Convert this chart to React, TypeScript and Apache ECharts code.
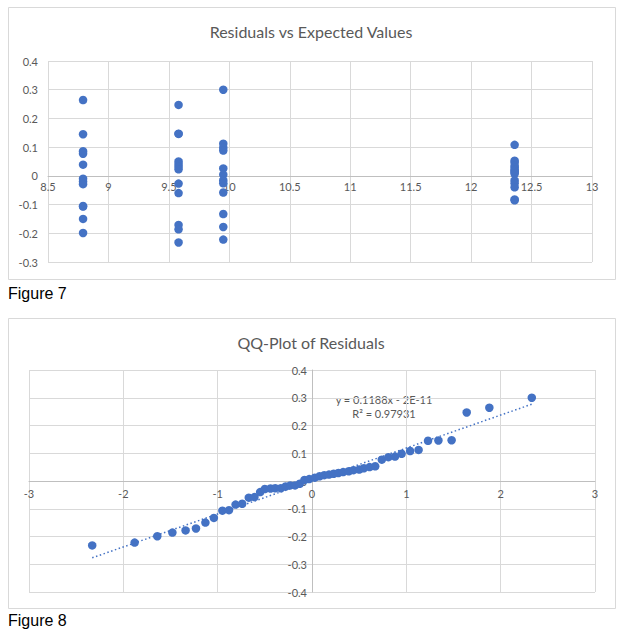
import React, { useEffect, useRef } from "react";
import * as echarts from "echarts";

// Figure 7: residuals for each expected value (group)
const expectedValues = [8.79, 9.58, 9.95, 12.36];
const residualsA = [0.264, 0.145, 0.086, 0.077, 0.039, -0.010, -0.020, -0.029, -0.105, -0.107, -0.150, -0.199];
const residualsB = [0.247, 0.147, 0.146, 0.050, 0.041, 0.032, 0.023, -0.027, -0.060, -0.171, -0.186, -0.232];
const residualsC = [0.300, 0.112, 0.098, 0.088, 0.026, 0.004, -0.016, -0.026, -0.058, -0.133, -0.178, -0.222];
const residualsD = [0.108, 0.053, 0.046, 0.035, 0.029, 0.021, 0.017, 0.012, 0.007, -0.016, -0.026, -0.040, -0.082, -0.085];
const residualGroups = [residualsA, residualsB, residualsC, residualsD];

// Figure 8: theoretical normal quantiles
const qqTheoretical = [
  -2.33, -1.88, -1.64, -1.48, -1.34, -1.23, -1.13, -1.04, -0.95, -0.88,
  -0.81, -0.74, -0.67, -0.61, -0.55, -0.50, -0.44, -0.39, -0.33, -0.28,
  -0.23, -0.18, -0.13, -0.08, -0.03, 0.03, 0.08, 0.13, 0.18, 0.23,
  0.28, 0.33, 0.39, 0.44, 0.50, 0.55, 0.61, 0.67, 0.74, 0.81,
  0.88, 0.95, 1.04, 1.13, 1.23, 1.34, 1.48, 1.64, 1.88, 2.33,
];
const trendSlope = 0.1188;
const trendIntercept = -2e-11;
const trendRange = [-2.33, 2.33];
const trendEquation = "y = 0.1188x - 2E-11";
const trendR2 = "R² = 0.97931";

const title1 = "Residuals vs Expected Values";
const title2 = "QQ-Plot of Residuals";
const caption1 = "Figure 7";
const caption2 = "Figure 8";

const BLUE = "#4472C4";
const GRID = "#d9d9d9";
const AXIS = "#bfbfbf";
const TXT = "#595959";
const FONT = "Lato, 'Open Sans', sans-serif";

// plot-area geometry (pixels)
const G1 = { left: 48, top: 61, width: 544, height: 201 };
const G2 = { left: 29, top: 370, width: 566, height: 222 };
const Y1 = [-0.3, 0.4];
const X2 = [-3, 3];
const Y2 = [-0.4, 0.4];

export default function App() {
  const ref = useRef<HTMLDivElement>(null);
  useEffect(() => {
    if (!ref.current) return;
    const chart = echarts.init(ref.current, null, { renderer: "svg" });

    const topData: number[][] = [];
    residualGroups.forEach((g, i) => g.forEach((r) => topData.push([expectedValues[i], r])));
    const sorted = ([] as number[]).concat(...residualGroups).sort((a, b) => a - b);
    const qqData = qqTheoretical.map((z, i) => [z, sorted[i]]);
    const trendData = trendRange.map((x) => [x, trendSlope * x + trendIntercept]);

    // offsets that place the axes on the zero lines
    const off1x = -G1.height * (0 - Y1[0]) / (Y1[1] - Y1[0]);
    const off2x = -G2.height * (0 - Y2[0]) / (Y2[1] - Y2[0]);
    const off2y = -G2.width * (0 - X2[0]) / (X2[1] - X2[0]);

    const axisLabel = { color: TXT, fontSize: 11, fontFamily: FONT };

    chart.setOption({
      animation: false,
      textStyle: { fontFamily: FONT },
      grid: [G1, G2],
      xAxis: [
        {
          gridIndex: 0, type: "value", min: 8.5, max: 13, interval: 0.5,
          position: "bottom", offset: off1x,
          axisLine: { show: true, onZero: false, lineStyle: { color: AXIS } },
          axisTick: { show: false },
          axisLabel: { ...axisLabel, margin: 5 },
          splitLine: { show: true, lineStyle: { color: GRID } },
        },
        {
          gridIndex: 1, type: "value", min: X2[0], max: X2[1], interval: 1,
          position: "bottom", offset: off2x,
          axisLine: { show: true, onZero: false, lineStyle: { color: AXIS } },
          axisTick: { show: false },
          axisLabel: { ...axisLabel, margin: 7 },
          splitLine: { show: true, lineStyle: { color: GRID } },
        },
      ],
      yAxis: [
        {
          gridIndex: 0, type: "value", min: Y1[0], max: Y1[1], interval: 0.1,
          axisLine: { show: false, onZero: false },
          axisTick: { show: false },
          axisLabel: { ...axisLabel, margin: 10 },
          splitLine: { show: true, lineStyle: { color: GRID } },
        },
        {
          gridIndex: 1, type: "value", min: Y2[0], max: Y2[1], interval: 0.1,
          position: "left", offset: off2y,
          axisLine: { show: true, onZero: false, lineStyle: { color: AXIS } },
          axisTick: { show: false },
          axisLabel: { ...axisLabel, margin: 5 },
          splitLine: { show: true, lineStyle: { color: GRID } },
        },
      ],
      series: [
        {
          type: "scatter", xAxisIndex: 0, yAxisIndex: 0, data: topData,
          symbolSize: 8.5, itemStyle: { color: BLUE, opacity: 1 },
        },
        {
          type: "line", xAxisIndex: 1, yAxisIndex: 1, data: trendData,
          showSymbol: false, symbol: "none",
          lineStyle: { color: BLUE, width: 1.5, type: [1.5, 2.5] },
          z: 1,
        },
        {
          type: "scatter", xAxisIndex: 1, yAxisIndex: 1, data: qqData,
          symbolSize: 8.5, itemStyle: { color: BLUE, opacity: 1 }, z: 3,
        },
      ],
      graphic: [
        {
          type: "rect", z: -10, silent: true,
          shape: { x: 8.5, y: 7.5, width: 607, height: 272 },
          style: { fill: "#fff", stroke: GRID, lineWidth: 1 },
        },
        {
          type: "rect", z: -10, silent: true,
          shape: { x: 8.5, y: 318.5, width: 607, height: 290 },
          style: { fill: "#fff", stroke: GRID, lineWidth: 1 },
        },
        {
          type: "text", x: 311, y: 31,
          style: { text: title1, fill: TXT, font: `16px ${FONT}`, textAlign: "center", textVerticalAlign: "middle" },
        },
        {
          type: "text", x: 311, y: 342,
          style: { text: title2, fill: TXT, font: `16px ${FONT}`, textAlign: "center", textVerticalAlign: "middle" },
        },
        {
          type: "text", x: 384, y: 399,
          style: { text: trendEquation, fill: TXT, font: `11px ${FONT}`, textAlign: "center", textVerticalAlign: "middle" },
        },
        {
          type: "text", x: 384, y: 413,
          style: { text: trendR2, fill: TXT, font: `11px ${FONT}`, textAlign: "center", textVerticalAlign: "middle" },
        },
        {
          type: "text", x: 8, y: 293,
          style: { text: caption1, fill: "#000", font: "16px 'Liberation Sans', Arial, sans-serif", textAlign: "left", textVerticalAlign: "middle" },
        },
        {
          type: "text", x: 8, y: 620,
          style: { text: caption2, fill: "#000", font: "16px 'Liberation Sans', Arial, sans-serif", textAlign: "left", textVerticalAlign: "middle" },
        },
      ],
    });
    return () => chart.dispose();
  }, []);
  return (
    <div
      ref={ref}
      style={{ position: "absolute", left: 0, top: 0, width: 625, height: 638, background: "#fff" }}
    />
  );
}
